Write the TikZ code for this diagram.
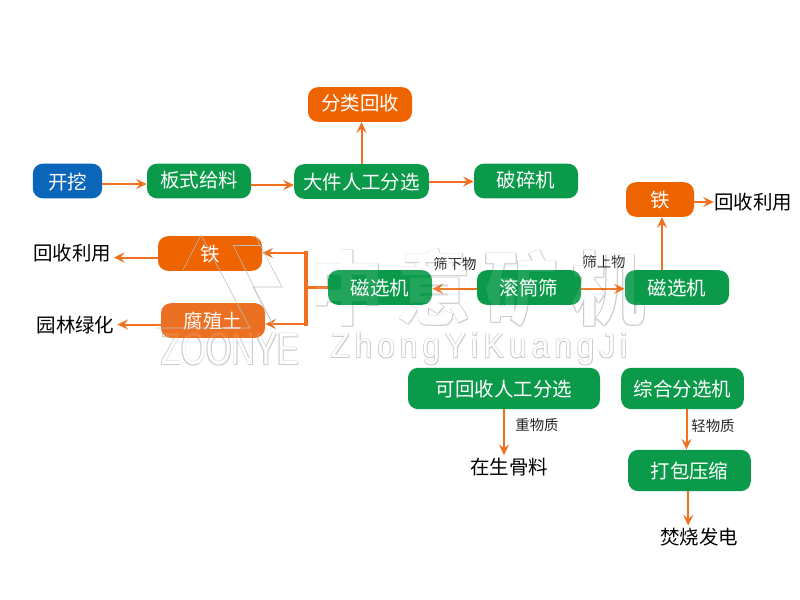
\documentclass[tikz,border=0pt]{standalone}
\usepackage{fontspec}
\setmainfont{Noto Sans CJK SC}
\usetikzlibrary{arrows.meta}

\definecolor{boxgreen}{HTML}{0A9A4A}
\definecolor{boxorange}{HTML}{EE6400}
\definecolor{boxpale}{HTML}{EC7021}
\definecolor{boxblue}{HTML}{0A66B8}
\definecolor{flowline}{HTML}{F0701F}

\tikzset{
  box/.style={rounded corners=7.5pt, inner sep=0pt, text=white, minimum height=26pt,
    minimum width=78pt, text height=14pt, text depth=2pt, font=\fontsize{14.6}{16}\selectfont},
  raised/.style={text height=11pt},
  gbox/.style={box, fill=boxgreen},
  obox/.style={box, fill=boxorange},
  lbl/.style={inner sep=2pt, text=black, font=\fontsize{14.6}{16}\selectfont},
  tag/.style={inner sep=0pt, text=black!85, font=\fontsize{10.8}{12}\selectfont},
  flow/.style={-{Stealth[length=8pt, width=7.5pt, inset=3pt]}, flowline, line width=1.5pt},
  spine/.style={flowline, line width=2.4pt},
  wmline/.style={gray!50, line width=0.4pt},
  wmshade/.style={inner sep=0pt, text=gray!40},
  wmtop/.style={inner sep=0pt, text=white},
  wmover/.style={inner sep=0pt, text=white, text opacity=0.1},
}

\newcommand{\wmark}[5]{% name, x, y, font, text
  \foreach \dx/\dy in {-0.6/-0.6, 0.6/-0.6, -0.6/0.6, 0.9/0.9} {
    \node[wmshade, font=#4] (#1s\dx\dy) at (#2+\dx, #3+\dy) {#5};
  }
  \node[wmtop, font=#4] (#1t) at (#2, #3) {#5};
}
\newfontfamily\wmfont{Liberation Sans}
\newcommand{\wmcn}{\scalebox{0.92}[1]{中\hspace{0.18em}意\hspace{0.18em}矿\hspace{0.18em}机}}
\newcommand{\wmen}{\scalebox{0.9}[1]{Z\,h\,o\,n\,g\,Y\,i\,K\,u\,a\,n\,g\,J\,i}}
\newcommand{\wmzy}{\scalebox{0.72}[1]{ZOONYE}}

\begin{document}
\begin{tikzpicture}[x=0.75pt, y=-0.75pt]
  \useasboundingbox[fill=white] (0,0) rectangle (800,600);

  % -- Watermark --
  \wmark{cn}{478}{288}{\fontsize{60}{60}\bfseries\selectfont}{\wmcn}
  \wmark{en}{479}{349}{\wmfont\fontsize{26}{26}\selectfont}{\wmen}
  \wmark{zy}{230}{349}{\wmfont\fontsize{34}{34}\selectfont}{\wmzy}

  % -- Top row --
  \node[box, fill=boxblue, minimum width=52pt] (dig) at (67.5, 181) {开挖};
  \node[gbox, raised] (feed) at (199, 181) {板式给料};
  \node[gbox, minimum width=101pt] (sort) at (361.5, 181.5) {大件人工分选};
  \node[gbox, raised] (crush) at (526, 181) {破碎机};
  \node[obox, raised] (recycle) at (360, 104.5) {分类回收};

  % -- Middle row --
  \node[gbox] (magl) at (380, 287.5) {磁选机};
  \node[gbox] (drum) at (529, 287.5) {滚筒筛};
  \node[gbox] (magr) at (677, 287.5) {磁选机};
  \node[obox, minimum width=51pt] (ironr) at (660, 199.5) {铁};
  \node[obox] (ironl) at (210, 253.5) {铁};
  \node[box, fill=boxpale] (humus) at (213, 320.5) {腐殖土};

  % -- Bottom rows --
  \node[gbox, minimum width=144pt, minimum height=31pt] (manual) at (504, 388.5) {可回收人工分选};
  \node[gbox, minimum width=92pt, minimum height=31pt] (multi) at (682.5, 388.5) {综合分选机};
  \node[gbox, minimum width=92pt, minimum height=31pt] (bale) at (689.5, 470.5) {打包压缩};

  % -- Plain labels --
  \node[lbl, inner sep=0pt] (reuser) at (753, 202) {回收利用};
  \node[lbl] (reusel) at (72, 253.5) {回收利用};
  \node[lbl] (green) at (75.5, 325) {园林绿化};
  \node[lbl] (agg) at (509, 467) {在生骨料};
  \node[lbl] (power) at (699, 537.5) {焚烧发电};
  \node[tag] (under) at (455, 264) {筛下物};
  \node[tag] (over) at (604, 262) {筛上物};
  \node[tag] (heavy) at (537, 425) {重物质};
  \node[tag] (light) at (713, 426) {轻物质};

  % -- Top flow --
  \draw[flow] ([yshift=-2.25pt]dig.east) -- ([yshift=-2.25pt]dig.east -| feed.west);
  \draw[flow] ([yshift=-3pt]feed.east) -- ([yshift=-3pt]feed.east -| sort.west);
  \draw[flow] (sort.east) -- (sort.east -| crush.west);
  \draw[flow] (sort.north) -- (sort.north |- recycle.south);

  % -- Drum outputs --
  \draw[flow] ([yshift=-1pt]drum.west) -- ([yshift=-1pt]drum.west -| magl.east);
  \draw[flow] ([yshift=-1pt]drum.east) -- ([yshift=-1pt]drum.east -| magr.west);
  \draw[flow] ([xshift=1.5pt]ironr.south |- magr.north) -- ([xshift=1.5pt]ironr.south);
  \draw[flow] (ironr.east |- reuser.west) -- (reuser.west);

  % -- Left branch --
  \coordinate (fork) at (306, 288);
  \coordinate (forkup) at (306, 253);
  \coordinate (forkdown) at (306, 324);
  \draw[flow] (forkup) -- (forkup -| ironl.east);
  \draw[flow] (forkdown) -- (forkdown -| humus.east);
  \draw[spine] (magl.west) -- (magl.west -| fork);
  \draw[spine, line cap=rect] (forkup) -- (forkdown);
  \draw[flow] ([yshift=-3pt]ironl.west) -- ([yshift=-3pt]ironl.west -| reusel.east);
  \draw[flow] ([yshift=-3pt]humus.west) -- ([yshift=-3pt]humus.west -| green.east);

  % -- Bottom flow --
  \draw[flow] (manual.south) -- (manual.south |- agg.north);
  \draw[flow] ([xshift=3pt]multi.south) -- ([xshift=3pt]multi.south |- bale.north);
  \draw[flow] ([xshift=-1pt]bale.south) -- ([xshift=-1pt]bale.south |- power.north);

  % -- Watermark over the boxes --
  \node[wmover, font=\fontsize{60}{60}\bfseries\selectfont] (cnover) at (478, 288) {\wmcn};
  \node[wmover, font=\wmfont\fontsize{34}{34}\selectfont] (zyover) at (230, 349) {\wmzy};
  \draw[wmline] (201,235) -- (183,270);
  \draw[wmline] (201,235) -- (250,328) -- (157,328);
  \draw[wmline] (233,245) -- (261,245);
  \draw[wmline] (233,245) -- (273,325);
  \draw[wmline] (255,235) -- (282,287) -- (253,287) -- (273,325);
\end{tikzpicture}
\end{document}
